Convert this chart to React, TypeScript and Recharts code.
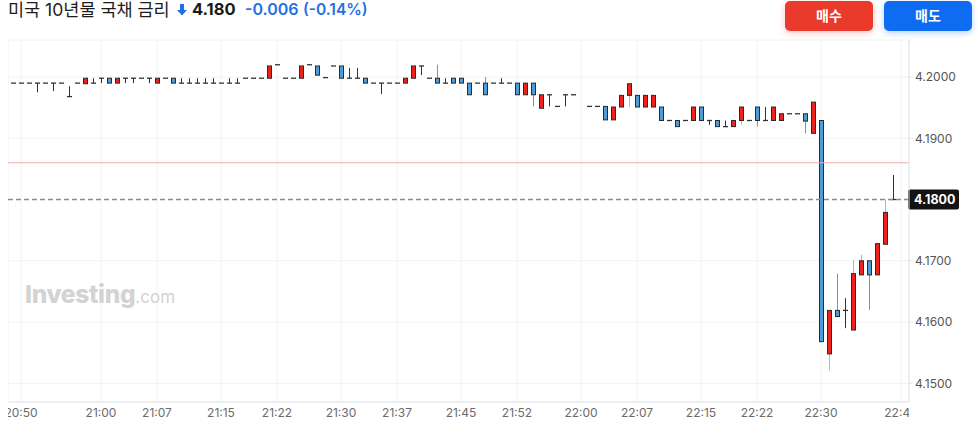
// US 10Y treasury yield, 1-minute candles (Investing.com KR style: red = up, blue = down)

import React from "react";
import {
  Bar,
  CartesianGrid,
  ComposedChart,
  ReferenceLine,
  XAxis,
  YAxis,
} from "recharts";

// OHLC per 1-minute candle, first candle at 20:49.
const OPEN = [
  4.1990, 4.1990, 4.1990, 4.1990, 4.1990, 4.1990, 4.1990, 4.1968, 4.1990, 4.1989,
  4.1990, 4.1998, 4.1998, 4.1990, 4.1998, 4.1998, 4.1998, 4.1998, 4.1990, 4.1998,
  4.1998, 4.1990, 4.1990, 4.1990, 4.1990, 4.1990, 4.1990, 4.1990, 4.1990, 4.1998,
  4.1998, 4.1998, 4.1998, 4.2020, 4.1998, 4.1998, 4.1998, 4.2020, 4.2018, 4.1999,
  4.2018, 4.2018, 4.1998, 4.1998, 4.1998, 4.1990, 4.1990, 4.1990, 4.1990, 4.1990,
  4.1998, 4.2018, 4.1998, 4.1998, 4.1990, 4.1998, 4.1998, 4.1990, 4.1990, 4.1990,
  4.1990, 4.1990, 4.1990, 4.1990, 4.1971, 4.1990, 4.1949, 4.1971, 4.1952, 4.1971,
  4.1971, 4.1952, 4.1952, 4.1952, 4.1930, 4.1951, 4.1970, 4.1970, 4.1951, 4.1951,
  4.1951, 4.1929, 4.1929, 4.1929, 4.1929, 4.1951, 4.1929, 4.1929, 4.1919, 4.1919,
  4.1929, 4.1929, 4.1951, 4.1929, 4.1929, 4.1929, 4.1940, 4.1940, 4.1940, 4.1908,
  4.1929, 4.1548, 4.1619, 4.1619, 4.1587, 4.1677, 4.1700, 4.1677, 4.1727, 4.1800,
];
const HIGH = [
  4.1990, 4.1990, 4.1990, 4.1990, 4.1990, 4.1990, 4.1990, 4.1985, 4.1990, 4.1998,
  4.1998, 4.1998, 4.1998, 4.1998, 4.1998, 4.1998, 4.1998, 4.1998, 4.1998, 4.1998,
  4.1998, 4.1998, 4.1998, 4.1998, 4.1998, 4.1998, 4.1990, 4.1998, 4.1998, 4.1998,
  4.1998, 4.1998, 4.2018, 4.2020, 4.1998, 4.1998, 4.2018, 4.2020, 4.2018, 4.1999,
  4.2018, 4.2018, 4.2015, 4.2015, 4.1998, 4.1990, 4.1990, 4.1990, 4.1990, 4.1998,
  4.2018, 4.2018, 4.1998, 4.2020, 4.1998, 4.1998, 4.1998, 4.1990, 4.1990, 4.2000,
  4.1990, 4.1998, 4.1990, 4.1990, 4.1990, 4.1990, 4.1971, 4.1971, 4.1952, 4.1971,
  4.1971, 4.1952, 4.1952, 4.1952, 4.1951, 4.1970, 4.1989, 4.1970, 4.1970, 4.1970,
  4.1951, 4.1929, 4.1929, 4.1929, 4.1951, 4.1951, 4.1929, 4.1929, 4.1929, 4.1929,
  4.1951, 4.1929, 4.1951, 4.1951, 4.1951, 4.1940, 4.1940, 4.1940, 4.1940, 4.1959,
  4.1929, 4.1619, 4.1679, 4.1639, 4.1701, 4.1710, 4.1700, 4.1728, 4.1800, 4.1840,
];
const LOW = [
  4.1990, 4.1990, 4.1990, 4.1975, 4.1990, 4.1977, 4.1990, 4.1968, 4.1990, 4.1989,
  4.1990, 4.1990, 4.1990, 4.1990, 4.1990, 4.1990, 4.1998, 4.1990, 4.1990, 4.1998,
  4.1990, 4.1990, 4.1990, 4.1990, 4.1990, 4.1990, 4.1990, 4.1990, 4.1990, 4.1998,
  4.1998, 4.1998, 4.1998, 4.2020, 4.1998, 4.1998, 4.1998, 4.2020, 4.2003, 4.1999,
  4.2018, 4.1998, 4.1998, 4.1998, 4.1990, 4.1990, 4.1972, 4.1990, 4.1990, 4.1990,
  4.1998, 4.2003, 4.1998, 4.1990, 4.1990, 4.1990, 4.1990, 4.1971, 4.1990, 4.1971,
  4.1990, 4.1990, 4.1990, 4.1971, 4.1971, 4.1952, 4.1949, 4.1952, 4.1952, 4.1952,
  4.1971, 4.1952, 4.1952, 4.1930, 4.1930, 4.1951, 4.1951, 4.1951, 4.1951, 4.1951,
  4.1929, 4.1929, 4.1919, 4.1929, 4.1929, 4.1929, 4.1922, 4.1919, 4.1919, 4.1919,
  4.1922, 4.1929, 4.1919, 4.1929, 4.1929, 4.1929, 4.1940, 4.1940, 4.1908, 4.1908,
  4.1568, 4.1521, 4.1609, 4.1590, 4.1587, 4.1677, 4.1620, 4.1677, 4.1727, 4.1800,
];
const CLOSE = [
  4.1990, 4.1990, 4.1990, 4.1990, 4.1990, 4.1990, 4.1990, 4.1968, 4.1990, 4.1998,
  4.1990, 4.1998, 4.1990, 4.1998, 4.1998, 4.1998, 4.1998, 4.1998, 4.1998, 4.1998,
  4.1990, 4.1990, 4.1990, 4.1990, 4.1990, 4.1990, 4.1990, 4.1990, 4.1990, 4.1998,
  4.1998, 4.1998, 4.2018, 4.2020, 4.1998, 4.1998, 4.2018, 4.2020, 4.2003, 4.1999,
  4.2018, 4.1998, 4.1998, 4.1998, 4.1990, 4.1990, 4.1990, 4.1990, 4.1990, 4.1998,
  4.2018, 4.2018, 4.1998, 4.1990, 4.1990, 4.1990, 4.1990, 4.1971, 4.1990, 4.1971,
  4.1990, 4.1990, 4.1990, 4.1971, 4.1990, 4.1971, 4.1971, 4.1971, 4.1952, 4.1971,
  4.1971, 4.1952, 4.1952, 4.1930, 4.1951, 4.1970, 4.1989, 4.1951, 4.1970, 4.1970,
  4.1929, 4.1929, 4.1919, 4.1929, 4.1951, 4.1929, 4.1929, 4.1919, 4.1919, 4.1929,
  4.1951, 4.1929, 4.1929, 4.1929, 4.1951, 4.1940, 4.1940, 4.1940, 4.1928, 4.1959,
  4.1568, 4.1619, 4.1609, 4.1619, 4.1679, 4.1700, 4.1677, 4.1728, 4.1779, 4.1800,
];

const FIRST_MINUTE = 49; // minutes after 20:00
const GAP_AFTER = 70; // one minute has no candle just before 22:00
const X_TICK_MINUTES = [50, 60, 67, 75, 82, 90, 97, 105, 112, 120, 127, 135, 142, 150, 160];
const Y_TICKS = [4.15, 4.16, 4.17, 4.19, 4.2];
const PREV_CLOSE = 4.186;
const LAST_PRICE = CLOSE[CLOSE.length - 1];

const CHART_W = 962;
const CHART_H = 434;
const Y_AXIS_W = 61;
const PLOT_RIGHT = CHART_W - Y_AXIS_W;

const UP = "#f0201c";
const DOWN = "#4d9ed8";
const WICK_UP = "#93d28d";
const WICK_DOWN = "#e2705e";
const DOJI = "#333333";
const OUTLINE = "#2a2a2a";
const GRID = "#f0f2f6";
const AXIS = "#e1e4ea";

const rows = OPEN.map((o, i) => ({
  m: FIRST_MINUTE + i + (i > GAP_AFTER ? 1 : 0),
  o,
  h: HIGH[i],
  l: LOW[i],
  c: CLOSE[i],
  range: [LOW[i], HIGH[i]],
}));

const fmtTime = (m: number) =>
  `${20 + Math.floor(m / 60)}:${String(m % 60).padStart(2, "0")}`;

function Candle(props: any) {
  const { x, y, width, height, payload } = props;
  if (x == null || !payload) return null;
  const { o, h, l, c } = payload;
  const top = Math.min(y, y + height);
  const bottom = Math.max(y, y + height);
  const span = h - l;
  const py = (v: number) =>
    span > 0 ? top + ((h - v) / span) * (bottom - top) : top;
  const cx = Math.round(x + width / 2) + 0.5;
  const dir = c > o ? 1 : c < o ? -1 : 0;
  const wick = dir > 0 ? WICK_UP : dir < 0 ? WICK_DOWN : DOJI;
  const bTop = py(Math.max(o, c));
  const bBot = py(Math.min(o, c));
  return (
    <g>
      {span > 0 && (
        <line x1={cx} x2={cx} y1={py(h)} y2={py(l)} stroke={wick} strokeWidth={1} />
      )}
      {dir === 0 ? (
        <line
          x1={cx - 2.5}
          x2={cx + 2.5}
          y1={py(o)}
          y2={py(o)}
          stroke={DOJI}
          strokeWidth={1.3}
        />
      ) : (
        <rect
          x={cx - 2}
          y={bTop}
          width={4}
          height={Math.max(bBot - bTop, 1)}
          fill={dir > 0 ? UP : DOWN}
          stroke={OUTLINE}
          strokeWidth={1}
        />
      )}
    </g>
  );
}

function TimeTick(props: any) {
  const { x, y, payload, index } = props;
  const id = `xclip-${index}`;
  return (
    <g>
      <defs>
        <clipPath id={id}>
          <rect x={0} y={y - 4} width={PLOT_RIGHT} height={24} />
        </clipPath>
      </defs>
      <text
        x={x}
        y={y}
        dy="0.71em"
        textAnchor="middle"
        fill="#6b6b6b"
        fontSize={12}
        fontFamily="Inter, Roboto, sans-serif"
        clipPath={`url(#${id})`}
      >
        {fmtTime(payload.value)}
      </text>
    </g>
  );
}

function PriceBadge(props: any) {
  const vb = props.viewBox;
  if (!vb) return null;
  const bx = vb.x + vb.width - 1;
  return (
    <g>
      <rect x={bx} y={vb.y - 10} width={51} height={20} rx={2} fill="#131313" />
      <text
        x={bx + 6}
        y={vb.y}
        dy="0.36em"
        fill="#ffffff"
        fontSize={12.5}
        fontWeight={700}
        fontFamily="Inter, Roboto, sans-serif"
      >
        {LAST_PRICE.toFixed(4)}
      </text>
    </g>
  );
}

const font = "Inter, 'Noto Sans CJK KR', sans-serif";

export default function App() {
  return (
    <div
      style={{
        position: "absolute",
        left: 0,
        top: 0,
        width: 978,
        height: 434,
        background: "#fff",
        overflow: "hidden",
        fontFamily: font,
      }}
    >
      <div style={{ position: "absolute", left: 8, top: 0, width: CHART_W, height: CHART_H }}>
        <ComposedChart
          width={CHART_W}
          height={CHART_H}
          data={rows}
          margin={{ top: 40, right: 0, bottom: 0, left: 0 }}
        >
          <CartesianGrid stroke={GRID} />
          <XAxis
            dataKey="m"
            type="number"
            domain={[48.375, 161]}
            allowDataOverflow
            ticks={X_TICK_MINUTES}
            height={32}
            tickSize={0}
            tickMargin={6}
            axisLine={{ stroke: AXIS }}
            tickLine={false}
            tick={<TimeTick />}
          />
          <YAxis
            orientation="right"
            type="number"
            domain={[4.14695, 4.20604]}
            allowDataOverflow
            ticks={Y_TICKS}
            width={Y_AXIS_W}
            tickSize={4}
            tickMargin={2}
            axisLine={{ stroke: AXIS }}
            tickLine={{ stroke: AXIS }}
            tickFormatter={(v: number) => v.toFixed(4)}
            tick={{ fill: "#555", fontSize: 12, fontFamily: "Inter, Roboto, sans-serif" }}
          />
          <ReferenceLine y={PREV_CLOSE} stroke="#f5a8ab" strokeWidth={1} />
          <Bar
            dataKey="range"
            barSize={6}
            shape={<Candle />}
            isAnimationActive={false}
          />
          <ReferenceLine
            y={LAST_PRICE}
            stroke="#8c8c8c"
            strokeWidth={1.5}
            strokeDasharray="5 3"
            label={<PriceBadge />}
          />
        </ComposedChart>
      </div>

      {/* header */}
      <div style={{ position: "absolute", left: 8, top: 0, fontSize: 17.5, lineHeight: "20px", color: "#1d1d1d" }}>
        미국 10년물 국채 금리
      </div>
      <svg style={{ position: "absolute", left: 177, top: 4 }} width={10} height={12} viewBox="0 0 10 12">
        <path d="M3 0 H7 V6 H10 L5 11.5 L0 6 H3 Z" fill="#1f6fe5" />
      </svg>
      <div style={{ position: "absolute", left: 192, top: 0, fontSize: 16.5, lineHeight: "19px", fontWeight: 700, color: "#1a1a1a" }}>
        4.180
      </div>
      <div style={{ position: "absolute", left: 245, top: 0, fontSize: 16, lineHeight: "19px", fontWeight: 600, color: "#1f6fe5" }}>
        -0.006
      </div>
      <div style={{ position: "absolute", left: 303, top: 0, fontSize: 15.5, lineHeight: "19px", fontWeight: 600, color: "#1f6fe5" }}>
        (-0.14%)
      </div>

      {/* buttons */}
      <div
        style={{
          position: "absolute",
          left: 785,
          top: 1,
          width: 88,
          height: 30,
          borderRadius: 5,
          background: "#ea3a2c",
          boxShadow: "0 2px 6px rgba(234,58,44,0.3)",
          color: "#fff",
          fontWeight: 700,
          fontSize: 14,
          lineHeight: "30px",
          textAlign: "center",
        }}
      >
        매수
      </div>
      <div
        style={{
          position: "absolute",
          left: 884,
          top: 1,
          width: 88,
          height: 30,
          borderRadius: 5,
          background: "#0d6cf2",
          boxShadow: "0 2px 6px rgba(13,108,242,0.3)",
          color: "#fff",
          fontWeight: 700,
          fontSize: 14,
          lineHeight: "30px",
          textAlign: "center",
        }}
      >
        매도
      </div>

      {/* watermark */}
      <div style={{ position: "absolute", left: 25, top: 279, color: "#d3d3d3", whiteSpace: "nowrap", fontFamily: "Inter, Roboto, sans-serif" }}>
        <span style={{ fontSize: 24.5, fontWeight: 800, letterSpacing: -0.3 }}>Investing</span>
        <span style={{ fontSize: 17, fontWeight: 400 }}>.com</span>
      </div>
    </div>
  );
}
